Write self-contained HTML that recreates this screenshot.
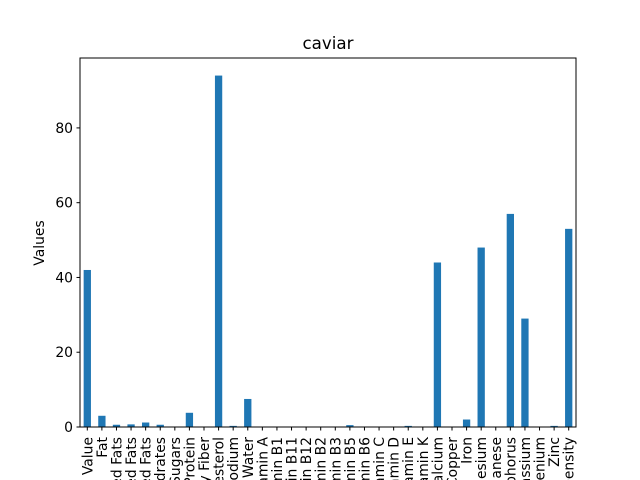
<!DOCTYPE html>
<html><head><meta charset="utf-8"><style>
body{margin:0;background:#fff;overflow:hidden}
svg text{font-family:"DejaVu Sans","Liberation Sans",sans-serif;fill:#000}
</style></head><body>
<svg id="c" width="640" height="480" xmlns="http://www.w3.org/2000/svg" style="display:block">
<rect width="640" height="480" fill="#fff"/>
<text x="328" y="49" font-size="16.7" text-anchor="middle">caviar</text>
<text transform="translate(44,243) rotate(-90)" font-size="13.9" text-anchor="middle">Values</text>
<g id="bars"></g><g id="axes"></g>
</svg>
<script>
const categories=["Caloric Value","Fat","Saturated Fats","Monounsaturated Fats","Polyunsaturated Fats","Carbohydrates","Sugars","Protein","Dietary Fiber","Cholesterol","Sodium","Water","Vitamin A","Vitamin B1","Vitamin B11","Vitamin B12","Vitamin B2","Vitamin B3","Vitamin B5","Vitamin B6","Vitamin C","Vitamin D","Vitamin E","Vitamin K","Calcium","Copper","Iron","Magnesium","Manganese","Phosphorus","Potassium","Selenium","Zinc","Nutrition Density"];
const values=[42,3,0.6,0.7,1.2,0.6,0,3.8,0,94,0.3,7.5,0,0,0,0,0,0,0.5,0,0,0,0.3,0,44,0,2,48,0,57,29,0,0.3,53];
const yTicks=[0,20,40,60,80];
const NS="http://www.w3.org/2000/svg";
const L=80,R=576,T=58,B=427,ymax=98.7;
const step=(R-L)/categories.length;
const x=i=>L+step*(i+0.5);
const y=v=>B-(v/ymax)*(B-T);
const bars=document.getElementById('bars'),axes=document.getElementById('axes');
function mk(p,tag,a){const e=document.createElementNS(NS,tag);for(const k in a)e.setAttribute(k,a[k]);p.appendChild(e);return e;}
values.forEach((v,i)=>{
 const r=mk(bars,'rect',{x:x(i)-step*0.25,y:y(v),width:step*0.5,height:B-y(v),fill:'#1f77b4'});
 
 
});
const fr=mk(axes,'rect',{x:L,y:T,width:R-L,height:B-T,fill:'none',stroke:'#000','stroke-width':1});


yTicks.forEach(t=>{
 mk(axes,'line',{x1:L-3.5,x2:L,y1:y(t),y2:y(t),stroke:'#000'});
 const tx=mk(axes,'text',{x:L-7,y:y(t)+5,'font-size':13.9,'text-anchor':'end'});
 tx.textContent=t;
 
 
});
categories.forEach((c,i)=>{
 mk(axes,'line',{x1:x(i),x2:x(i),y1:B,y2:B+3.5,stroke:'#000'});
 const tx=mk(axes,'text',{transform:`translate(${x(i)+5},${B+10}) rotate(-90)`,'font-size':13.9,'text-anchor':'end'});
 tx.textContent=c;
 
 
});
</script>
</body></html>
